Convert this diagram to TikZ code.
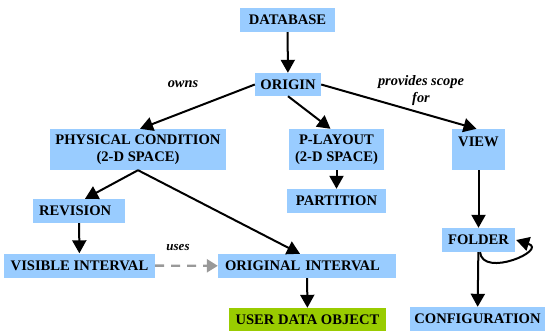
\documentclass[tikz,border=0pt]{standalone}
\usepackage{fontspec}
\setmainfont{Liberation Serif}
\newfontfamily\boxfont{Liberation Serif}
\usetikzlibrary{arrows.meta,calc}
\definecolor{BoxClr}{HTML}{99CCFF}
\definecolor{DataClr}{HTML}{99CC00}
\definecolor{UsesClr}{HTML}{999999}

\begin{document}
\begin{tikzpicture}[x=1pt,y=-1pt,
  box/.style={fill=BoxClr,inner sep=0pt,minimum height=24pt,align=center,
    font=\boxfont\fontsize{14.6}{16.5}\selectfont\bfseries},
  lbl/.style={inner sep=0pt,align=center,
    font=\boxfont\fontsize{14.4}{17}\selectfont\bfseries\itshape},
  arr/.style={line width=2pt,-{Triangle[length=13pt,width=14pt]}}]
\useasboundingbox (0,0) rectangle (545,330);

\node[box,minimum width=95pt] (db) at (287.5,20) {DATABASE};
\node[box,minimum width=66pt,minimum height=23pt] (origin) at (288,84.5) {ORIGIN};

\node[box,minimum width=176pt,minimum height=41pt] (phys) at (138,149.5) {PHYSICAL CONDITION\\(2-D SPACE)};
\node[box,minimum width=95pt,minimum height=41pt] (play) at (336.5,149.5) {P-LAYOUT\\(2-D SPACE)};
\node[box,minimum width=53pt,minimum height=41pt] (view) at (478.5,149.5) {VIEW\\\mbox{}};

\node[box,minimum width=99pt] (part) at (336.5,201) {PARTITION};
\node[box,inner xsep=6pt,text width=80pt,align=left] (rev) at (79,211) {REVISION};
\node[box,minimum width=151pt] (vis) at (79.5,265.5) {VISIBLE INTERVAL};
\node[box,inner xsep=7pt,text width=164pt,align=left] (orig) at (307,266) {ORIGINAL INTERVAL};
\node[box,fill=DataClr,minimum width=157pt,minimum height=23pt] (user) at (307.5,319.5) {USER DATA OBJECT};

\node[box,minimum width=73pt] (folder) at (478.5,240) {FOLDER};
\node[box,minimum width=135pt] (config) at (477.5,319) {CONFIGURATION};

% edge labels
\node[lbl] (owns) at (183,84) {owns};
\node[lbl] (scope) at (421,91) {provides scope\\for};
\node[lbl,font=\boxfont\fontsize{13}{15}\selectfont\bfseries\itshape] (uses) at (178,248) {uses};

\draw[arr] (db) -- (origin);
\draw[arr] (origin.west) -- ([xshift=2pt]phys.north);
\draw[arr] (origin.south) -- ([xshift=-6pt]play.north);
\draw[arr] (origin.east) -- ([xshift=-2pt]view.north);
\draw[arr] (play) -- (part);
\draw[arr] (phys.south) -- ([xshift=6pt]rev.north);
\draw[arr] (phys.south) -- ([xshift=-7pt]orig.north);
\draw[arr] (rev) -- (vis);
\draw[line width=2.4pt,UsesClr,dash pattern=on 9pt off 7pt,
  -{Triangle[length=11pt,width=13pt]}] (vis) -- (orig);
\draw[arr] (orig) -- (user);
\draw[arr] (view) -- (folder);
\draw[arr] (folder) -- (config);
\draw[arr] ([xshift=1.5pt]folder.south) .. controls +(3,26) and +(32,10) .. ([xshift=1pt]folder.east);

\end{tikzpicture}
\end{document}
